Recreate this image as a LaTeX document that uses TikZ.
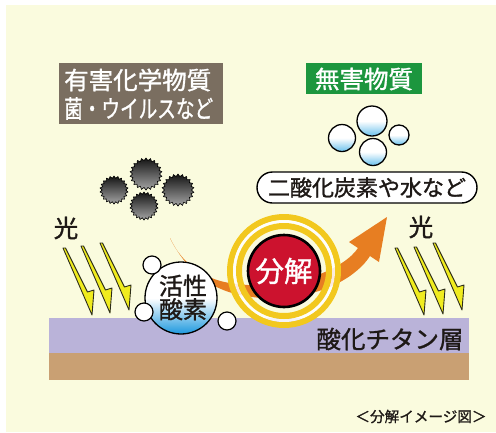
\documentclass[tikz,border=0pt]{standalone}
\usepackage{fontspec}
\setmainfont{Noto Sans CJK JP}[RawFeature={embolden=1.2}]
\usetikzlibrary{shapes.geometric}

\definecolor{paper}{RGB}{250,251,222}
\definecolor{titlebrown}{RGB}{122,110,96}
\definecolor{safegreen}{RGB}{28,150,62}
\definecolor{tio}{RGB}{186,179,217}
\definecolor{base}{RGB}{201,160,115}
\definecolor{boltyellow}{RGB}{240,236,30}
\definecolor{boltedge}{RGB}{45,45,25}
\definecolor{flow}{RGB}{231,126,34}
\definecolor{ring}{RGB}{242,200,30}
\definecolor{hot}{RGB}{204,18,46}
\definecolor{pale}{RGB}{105,192,236}
\definecolor{deep}{RGB}{28,152,222}
\definecolor{ink}{RGB}{30,25,22}

\newcommand{\fsz}[1]{\fontsize{#1}{#1}\selectfont}

\begin{document}
\begin{tikzpicture}[x=1pt,y=-1pt,
  label24/.style={inner sep=0, text=ink, font=\fsz{24.5}},
  whitelabel/.style={inner sep=0, text=white, font=\fsz{24.5}},
  bolt/.style={fill=boltyellow, draw=boltedge, line width=0.9pt, line join=round},
  virus/.style={star, star points=22, star point ratio=1.18, inner sep=0,
    draw=black, line width=0.6pt, top color=black!92, bottom color=black!35},
  bubble/.style={circle, inner sep=0, draw=black, line width=1.3pt,
    top color=white, bottom color=pale, middle color=white},
  spark/.style={circle, inner sep=0, minimum size=18, fill=white, draw=black, line width=1.2pt}
]
\useasboundingbox (0,0) rectangle (496,432);
\fill[paper] (6,5) rectangle (496,432);

% substrate and titanium oxide layer
\fill[base] (49,353) rectangle (469,380);
\fill[tio] (49,318) rectangle (469,353);

% harmful substances
\node[fill=titlebrown, minimum width=164, minimum height=61, inner sep=0] (harm) at (141,93.5) {};
\node[whitelabel, anchor=west] (harm1) at (64,80) {有害化学物質};
\node[whitelabel, anchor=west] (harm2) at (64,108.5) {\scalebox{0.76}[1]{菌・ウイルスなど}};

\node[virus, minimum size=32] (v1) at (146,174) {};
\node[virus, minimum size=28] (v2) at (114,190) {};
\node[virus, minimum size=32] (v3) at (178,190) {};
\node[virus, minimum size=28] (v4) at (144,206) {};

% harmless products
\node[fill=safegreen, minimum width=116, minimum height=31, inner sep=0] (safe) at (364,78.5) {};
\node[whitelabel] (safet) at (364,79) {無害物質};

\node[bubble, minimum size=30] (b1) at (372,121) {};
\node[bubble, minimum size=27] (b2) at (342,138) {};
\node[bubble, minimum size=20] (b3) at (399,135) {};
\node[bubble, minimum size=27] (b4) at (373,152) {};

\node[draw=black, line width=1.4pt, fill=white, rounded corners=15.5,
  minimum width=220, minimum height=31, inner sep=0, text=ink, font=\fsz{22}] (prod) at (367,187.5) {二酸化炭素や水など};

% light
\node[label24] (lightL) at (66,228) {光};
\node[label24] (lightR) at (421,227) {光};
\foreach \x/\y in {63/248, 81/246, 100/243, 395/248, 414/247, 433/243}
  \draw[bolt] (\x,\y) -- ++(2.5,0) -- ++(22,44) -- ++(6.5,-2) -- ++(-2,25) -- cycle;

% reaction path
\fill[flow] (170,238) .. controls (182,264) and (205,281) .. (237,284)
  .. controls (295,291) and (345,268) .. (358,248)
  -- (349,242) -- (387,217) -- (379,262) -- (370,256)
  .. controls (358,275) and (325,297) .. (275,298)
  .. controls (235,299) and (195,288) .. (170,238) -- cycle;

% active oxygen
\node[circle, inner sep=0, minimum size=72, draw=black, line width=1.3pt,
  top color=white, bottom color=deep, middle color=white] (ox) at (181,298) {};
\node[label24, align=center, font=\fsz{24}\linespread{1}\selectfont] (oxt) at (183,297.5) {活性\\[-0.5pt]酸素};
\node[spark] (s1) at (152,265) {};
\node[spark] (s2) at (144,312) {};
\node[spark] (s3) at (227,321) {};

% decomposition
\coordinate (dc) at (284,271);
\draw[ring, line width=6] (dc) circle[radius=54];
\draw[white, opacity=0.85, line width=3] (dc) circle[radius=49.5];
\draw[ring, line width=6] (dc) circle[radius=45];
\node[circle, inner sep=0, minimum size=72, fill=hot, draw=black, line width=2.6pt,
  text=white, font=\fsz{28.5}] (dec) at (dc) {分解};

% labels
\node[label24] (layer) at (390,339) {酸化チタン層};
\node[inner sep=0, text=ink, font=\fsz{14.6}] (cap) at (421,416.5) {＜分解イメージ図＞};
\end{tikzpicture}
\end{document}
